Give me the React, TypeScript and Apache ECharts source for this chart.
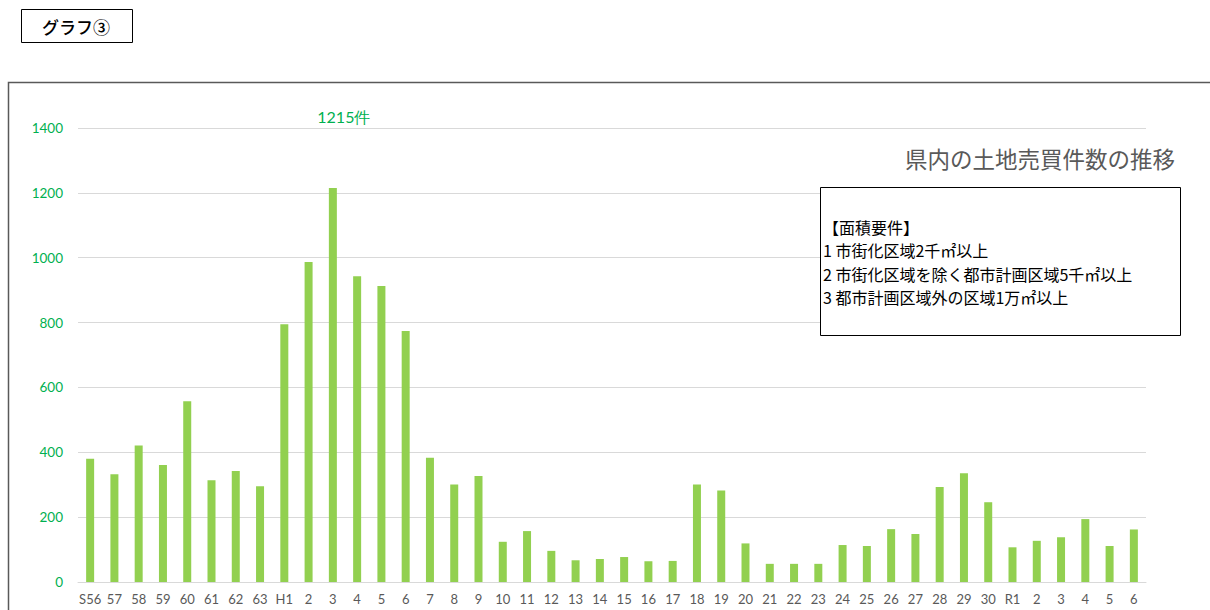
import React, { useEffect, useRef } from "react";
import * as echarts from "echarts";

const categories = [
  "S56", "57", "58", "59", "60", "61", "62", "63",
  "H1", "2", "3", "4", "5", "6", "7", "8", "9", "10", "11", "12", "13", "14", "15",
  "16", "17", "18", "19", "20", "21", "22", "23", "24", "25", "26", "27", "28", "29", "30",
  "R1", "2", "3", "4", "5", "6",
];
const counts = [
  380, 332, 421, 361, 557, 314, 342, 295,
  795, 987, 1215, 943, 913, 774, 383, 301, 327, 124, 157, 96, 67, 71, 77,
  64, 65, 301, 282, 119, 56, 56, 56, 114, 111, 163, 148, 293, 335, 246,
  107, 127, 138, 194, 111, 162,
];
const yTicks = [0, 200, 400, 600, 800, 1000, 1200, 1400];
const peakIndex = 10;
const chartTitle = "県内の土地売買件数の推移";
const noteLines = [
  "【面積要件】",
  "1 市街化区域2千㎡以上",
  "2 市街化区域を除く都市計画区域5千㎡以上",
  "3 都市計画区域外の区域1万㎡以上",
];
const badge = "グラフ③";

const JP = '"Noto Sans CJK JP", "Noto Sans", sans-serif';
const NUM = 'Lato, "Noto Sans", sans-serif';

export default function App() {
  const ref = useRef<HTMLDivElement>(null);
  useEffect(() => {
    if (!ref.current) return;
    const chart = echarts.init(ref.current, null, { renderer: "svg" });
    const data = counts.map((v, i) =>
      i === peakIndex
        ? {
            value: v,
            label: {
              show: true,
              position: "top",
              formatter: "{c}件",
              color: "#00B050",
              fontSize: 16,
              fontFamily: NUM,
              offset: [11, -58],
            },
          }
        : v
    );
    chart.setOption({
      animation: false,
      backgroundColor: "#ffffff",
      grid: { left: 78, right: 64, top: 128, bottom: 28, containLabel: false },
      xAxis: {
        type: "category",
        data: categories,
        axisLine: { show: true, lineStyle: { color: "#D9D9D9", width: 1 } },
        axisTick: { show: false },
        axisLabel: {
          interval: 0,
          color: "#595959",
          fontSize: 13,
          fontFamily: NUM,
          margin: 10,
        },
      },
      yAxis: {
        type: "value",
        min: yTicks[0],
        max: yTicks[yTicks.length - 1],
        interval: 200,
        axisLine: { show: false },
        axisTick: { show: false },
        splitLine: { lineStyle: { color: "#D9D9D9", width: 1 } },
        axisLabel: {
          color: "#00B050",
          fontSize: 13.5,
          fontFamily: NUM,
          margin: 15,
          formatter: (v: number) => String(v),
        },
      },
      series: [
        {
          type: "bar",
          data,
          barWidth: 8,
          itemStyle: { color: "#92D050" },
          label: { show: false },
        },
      ],
      graphic: [
        {
          type: "rect",
          shape: { x: 21.5, y: 9.5, width: 111, height: 33 },
          style: { fill: "#ffffff", stroke: "#000000", lineWidth: 1 },
        },
        {
          type: "text",
          x: 76,
          y: 26,
          style: {
            text: badge,
            fontSize: 17,
            fontWeight: 500,
            fontFamily: JP,
            fill: "#000000",
            align: "center",
            verticalAlign: "middle",
          },
        },
        {
          type: "rect",
          silent: true,
          shape: { x: 8.5, y: 82.5, width: 1220, height: 540 },
          style: { fill: "none", stroke: "#595959", lineWidth: 1.5 },
          z: 100,
        },
        {
          type: "text",
          x: 1175,
          y: 158,
          style: {
            text: chartTitle,
            fontSize: 22.5,
            fontFamily: JP,
            fill: "#595959",
            align: "right",
            verticalAlign: "middle",
          },
        },
        {
          type: "rect",
          shape: { x: 820.5, y: 187.5, width: 360, height: 148 },
          style: { fill: "#ffffff", stroke: "#000000", lineWidth: 1 },
          z: 50,
        },
        ...noteLines.map((t, i) => ({
          type: "text",
          x: 823,
          y: 227 + i * 23.3,
          z: 51,
          style: {
            text: t,
            fontSize: 16,
            fontFamily: JP,
            fill: "#000000",
            verticalAlign: "middle",
          },
        })),
      ],
    });
    return () => chart.dispose();
  }, []);
  return (
    <div
      ref={ref}
      style={{ position: "fixed", left: 0, top: 0, width: 1210, height: 610 }}
    />
  );
}
